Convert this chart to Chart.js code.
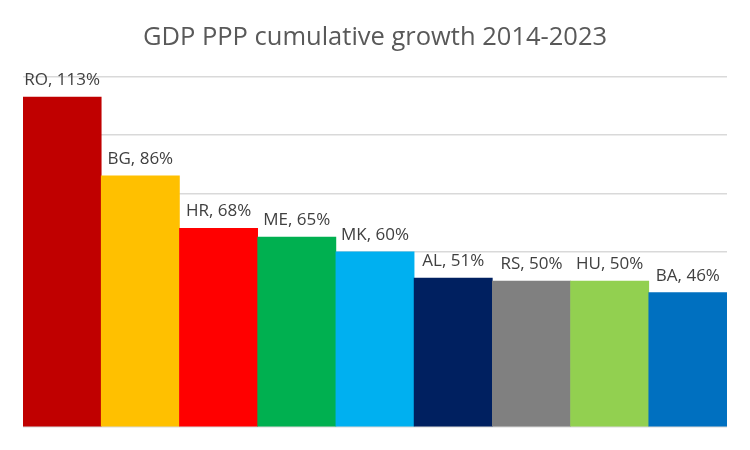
<!DOCTYPE html>
<html>
<head>
<meta charset="utf-8">
<script src="https://cdn.jsdelivr.net/npm/chart.js@4"></script>
<style>
  html, body { margin: 0; padding: 0; background: #fff; }
  #wrap { width: 750px; height: 450px; }
</style>
</head>
<body>
<div id="wrap"><canvas id="chart"></canvas></div>
<script>
const countries = ['RO', 'BG', 'HR', 'ME', 'MK', 'AL', 'RS', 'HU', 'BA'];
const growth = [113, 86, 68, 65, 60, 51, 50, 50, 46];
const barColors = ['#c00000', '#ffc000', '#ff0000', '#00b050', '#00b0f0', '#002060', '#808080', '#92d050', '#0070c0'];

// labels like "RO, 113%" above each bar
const barLabels = {
    id: 'barLabels',
    afterDatasetsDraw(chart) {
        const ctx = chart.ctx;
        const meta = chart.getDatasetMeta(0);
        ctx.save();
        ctx.font = '17px "Open Sans"';
        ctx.fillStyle = '#404040';
        ctx.textAlign = 'center';
        ctx.textBaseline = 'alphabetic';
        meta.data.forEach((bar, i) => {
            ctx.fillText(countries[i] + ', ' + growth[i] + '%', bar.x, bar.y - 12);
        });
        ctx.restore();
    }
};

new Chart(document.getElementById('chart'), {
    type: 'bar',
    data: {
        labels: countries,
        datasets: [{
            data: growth,
            backgroundColor: barColors,
            categoryPercentage: 1.0,
            barPercentage: 1.0
        }]
    },
    options: {
        responsive: true,
        maintainAspectRatio: false,
        animation: false,
        layout: { padding: { left: 23, right: 23, bottom: 23, top: 0 } },
        plugins: {
            legend: { display: false },
            tooltip: { enabled: false },
            title: {
                display: true,
                text: 'GDP PPP cumulative growth 2014-2023',
                color: '#595959',
                font: { family: 'Open Sans', size: 25.5, weight: 'normal' },
                padding: { top: 22, bottom: 24 }
            }
        },
        scales: {
            x: {
                display: false
            },
            y: {
                min: 0,
                max: 120,
                ticks: { display: false, stepSize: 20 },
                border: { display: false },
                grid: { color: '#d9d9d9', lineWidth: 1.5, drawTicks: false }
            }
        }
    },
    plugins: [barLabels]
});
</script>
</body>
</html>
